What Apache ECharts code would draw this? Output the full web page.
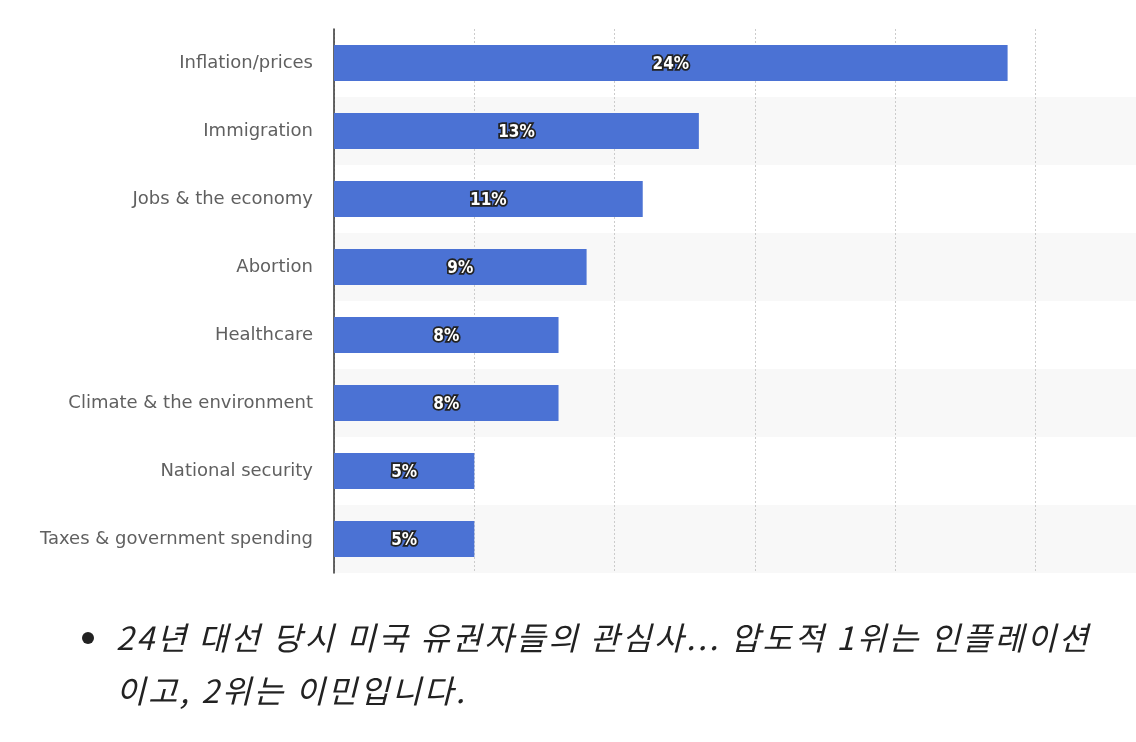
<!DOCTYPE html>
<html>
<head>
<meta charset="utf-8">
<script src="https://cdn.jsdelivr.net/npm/echarts@6/dist/echarts.min.js"></script>
<style>
    html, body { margin: 0; padding: 0; background: #fff; }
    #wrap { position: relative; width: 1136px; height: 742px; overflow: hidden; }
    #chart { width: 1136px; height: 742px; }
    .caption {
        position: absolute;
        left: 116px;
        margin: 0;
        font-family: "Noto Sans CJK KR", sans-serif;
        font-style: italic;
        font-size: 32px;
        letter-spacing: 2.6px;
        color: #222;
        white-space: nowrap;
        line-height: 40px;
    }
</style>
</head>
<body>
<div id="wrap">
    <div id="chart"></div>
    <p class="caption" id="line0" style="top: 616px;"></p>
    <p class="caption" id="line1" style="top: 669px;"></p>
</div>
<script>
'use strict';

const issues = [
    'Inflation/prices',
    'Immigration',
    'Jobs & the economy',
    'Abortion',
    'Healthcare',
    'Climate & the environment',
    'National security',
    'Taxes & government spending',
];
const shares = [24, 13, 11, 9, 8, 8, 5, 5];

const captionLines = [
    '24년 대선 당시 미국 유권자들의 관심사... 압도적 1위는 인플레이션',
    '이고, 2위는 이민입니다.',
];

const barColor = '#4b72d4';

document.addEventListener('DOMContentLoaded', () => {
    captionLines.forEach((line, i) => {
        document.getElementById('line' + i).textContent = line;
    });

    const chart = echarts.init(document.getElementById('chart'));

    chart.setOption({
        animation: false,
        backgroundColor: '#fff',
        grid: { left: 334, top: 29, width: 842, height: 544, outerBoundsMode: 'none' },
        xAxis: {
            type: 'value',
            min: 0,
            max: 30,
            interval: 5,
            axisLine: { show: false },
            axisTick: { show: false },
            axisLabel: { show: false },
            splitLine: {
                show: true,
                lineStyle: { color: '#cccccc', type: [2, 2], width: 1 },
            },
        },
        yAxis: {
            type: 'category',
            data: issues,
            inverse: true,
            axisLine: { show: true, lineStyle: { color: '#333', width: 1.5 } },
            axisTick: { show: false },
            axisLabel: {
                color: '#606060',
                fontFamily: 'DejaVu Sans',
                fontSize: 18,
                margin: 21,
            },
            splitArea: {
                show: true,
                areaStyle: { color: ['#ffffff', '#f8f8f8'] },
            },
        },
        series: [{
            type: 'bar',
            data: shares,
            barWidth: 36,
            itemStyle: { color: barColor },
            label: {
                show: true,
                position: 'inside',
                offset: [0, 2],
                formatter: '{c}%',
                color: '#fff',
                fontFamily: 'DejaVu Sans Condensed',
                fontWeight: 'bold',
                fontSize: 17,
                textBorderColor: '#222',
                textBorderWidth: 3.5,
            },
        }],
        graphic: [{
            type: 'circle',
            shape: { cx: 88, cy: 638, r: 6 },
            style: { fill: '#222' },
        }],
    });
});
</script>
</body>
</html>
